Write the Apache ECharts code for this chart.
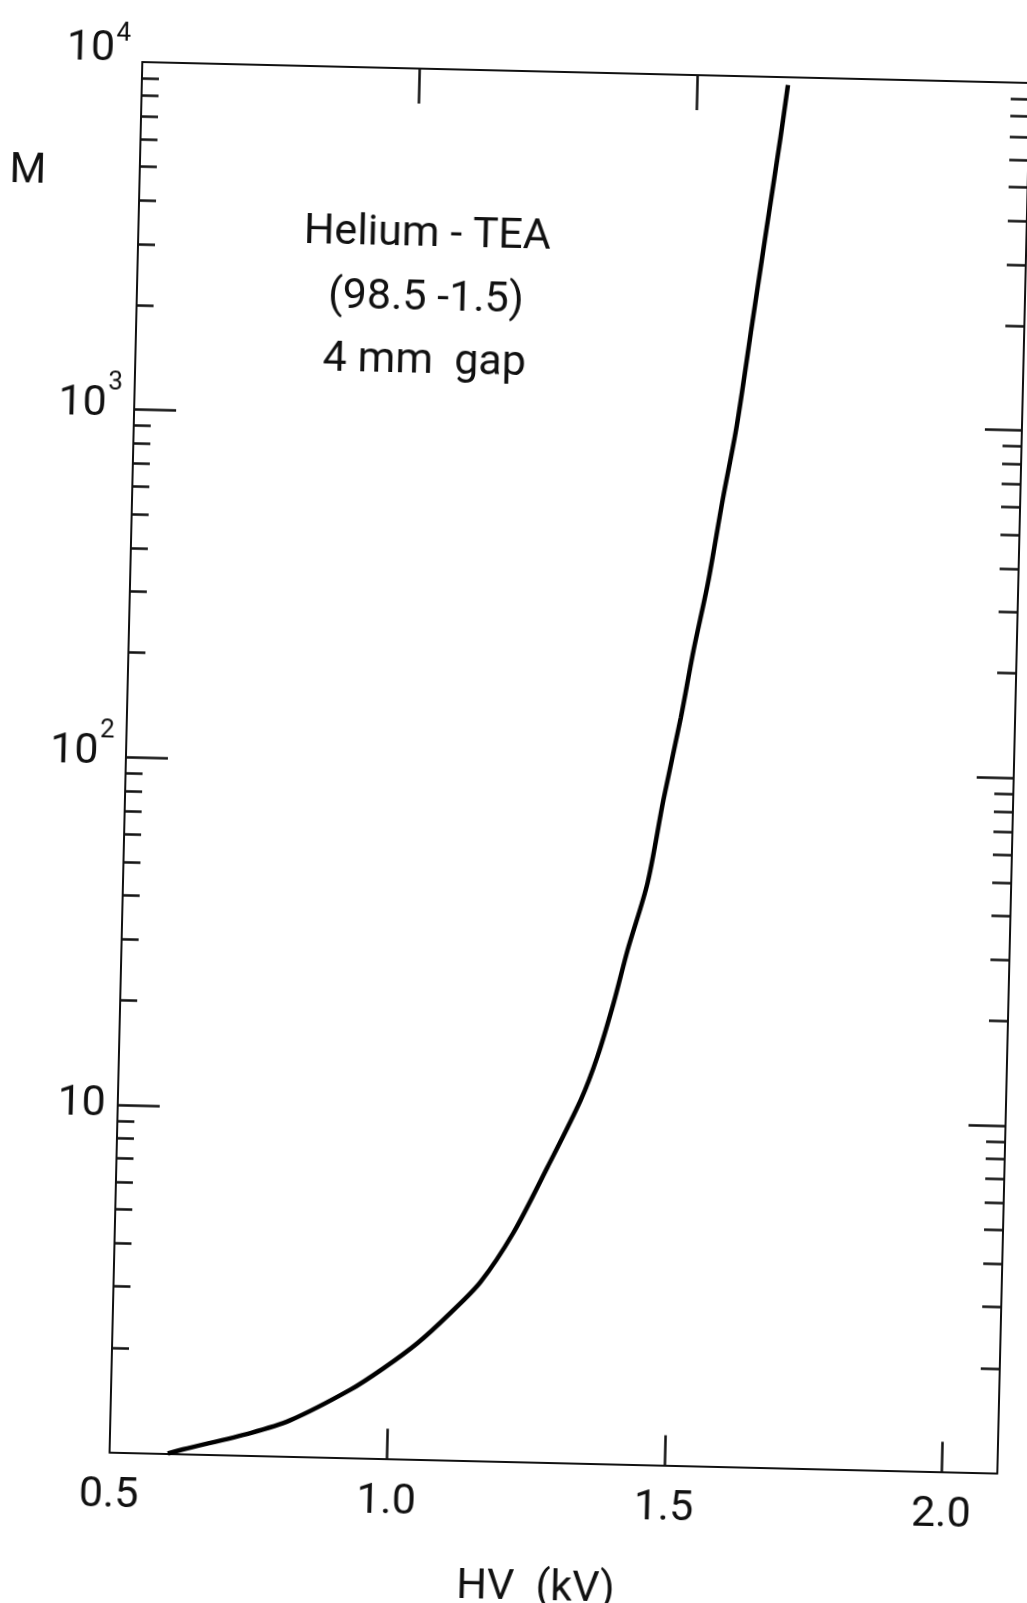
<!DOCTYPE html>
<html>
<head>
<meta charset="utf-8">
<script src="https://cdn.jsdelivr.net/npm/echarts@6/dist/echarts.min.js"></script>
<style>
  html, body { margin: 0; padding: 0; background: #fff; overflow: hidden; }
  /* the scan is tilted a little, so the whole chart is turned to match */
  #chart { position: absolute; left: -20px; top: -20px; width: 1067px; height: 1643px; transform: rotate(1.35deg); }
</style>
</head>
<body>
<div id="chart"></div>
<script>
// HV (kV) vs gas gain M
const hvKV = [0.605, 0.632, 0.753, 0.824, 0.931, 0.990, 1.050, 1.108, 1.161, 1.218, 1.277, 1.334, 1.362,
  1.389, 1.412, 1.445, 1.470, 1.498, 1.518, 1.541, 1.564, 1.586, 1.609, 1.632, 1.653, 1.664];
const gainM = [1.0, 1.03, 1.16, 1.27, 1.57, 1.82, 2.16, 2.65, 3.27, 4.55, 7.08, 11.1, 14.8,
  21.2, 30.2, 47.2, 81.9, 142, 222, 347, 603, 981, 1908, 3707, 6744, 9500];

const xLabelValues = [0.5, 1.0, 1.5, 2.0];
const xBottomTicks = [1.0, 1.5, 2.0];
const xTopTicks = [1.0, 1.5];
const yLabelValues = [10, 100, 1000, 10000];
const yMajorTicks = [10, 100, 1000];
const yMinorTicks = [2, 3, 4, 5, 6, 7, 8, 9, 20, 30, 40, 50, 60, 70, 80, 90,
  200, 300, 400, 500, 600, 700, 800, 900, 2000, 3000, 4000, 5000, 6000, 7000, 8000, 9000];
const noteLines = ['Helium - TEA', '(98.5 -1.5)', '4 mm  gap'];

const FONT = 'Roboto, "Liberation Sans", sans-serif';
const WEIGHT = 400;
const INK = '#111';

let chart = echarts.init(document.getElementById('chart'));

function yAxisPart(position, ticks, tickLen, withLine, withLabels) {
  const txt = { fontFamily: FONT, fontWeight: WEIGHT, color: INK }
  return {
    type: 'log',
    logBase: 10,
    min: 1,
    max: 10000,
    position: position,
    axisLine: { show: withLine, lineStyle: { color: INK, width: 2 } },
    axisTick: { show: true, inside: true, length: tickLen, customValues: ticks, lineStyle: { color: INK, width: 2.5 } },
    splitLine: { show: false },
    minorTick: { show: false },
    axisLabel: withLabels ? {
      show: true,
      margin: 12,
      customValues: yLabelValues,
      formatter: function (v) {
        let e = Math.round(Math.log10(v))
        if (e === 1) return '{p|10}'
        // the top label sits higher, beside the corner
        if (e === 4) return '{bt|10}{st|4}'
        return '{b|10}{s|' + e + '}'
      },
      rich: {
        p: { ...txt, fontSize: 43 },
        b: { ...txt, fontSize: 43, lineHeight: 43, padding: [0, 0, 8, 0] },
        s: { ...txt, fontSize: 26, lineHeight: 26, padding: [0, 0, 52, 1] },
        bt: { ...txt, fontSize: 43, lineHeight: 43, padding: [0, 0, 24, 0] },
        st: { ...txt, fontSize: 26, lineHeight: 26, padding: [0, 0, 55, 1] }
      }
    } : { show: false }
  }
}

let option = {
  backgroundColor: '#fff',
  animation: false,
  grid: { left: 145, right: 34, top: 91, height: 1390.5, containLabel: false },
  xAxis: [
    {
      type: 'value',
      position: 'bottom',
      min: 0.5,
      max: 2.1,
      axisLine: { show: true, lineStyle: { color: INK, width: 2 } },
      axisTick: { show: true, inside: true, length: 30, customValues: xBottomTicks, lineStyle: { color: INK, width: 2.5 } },
      splitLine: { show: false },
      axisLabel: {
        margin: 22,
        customValues: xLabelValues,
        formatter: v => v.toFixed(1),
        fontFamily: FONT, fontWeight: WEIGHT, fontSize: 43, color: INK
      },
      name: 'HV  (kV)',
      nameLocation: 'middle',
      nameGap: 105,
      nameTextStyle: { fontFamily: FONT, fontWeight: WEIGHT, fontSize: 43, color: INK, padding: [0, 30, 0, 0] }
    },
    {
      type: 'value',
      position: 'top',
      min: 0.5,
      max: 2.1,
      axisLine: { show: true, lineStyle: { color: INK, width: 2 } },
      axisTick: { show: true, inside: true, length: 35, customValues: xTopTicks, lineStyle: { color: INK, width: 2.5 } },
      splitLine: { show: false },
      axisLabel: { show: false }
    }
  ],
  yAxis: [
    yAxisPart('left', yMajorTicks, 42, true, true),
    yAxisPart('left', yMinorTicks, 17, false, false),
    yAxisPart('right', yMajorTicks, 37, true, false),
    yAxisPart('right', yMinorTicks, 19, false, false)
  ],
  graphic: [
    {
      type: 'text',
      x: 33, y: 203,
      style: { text: 'M', fontFamily: FONT, fontWeight: WEIGHT, fontSize: 42, fill: INK, textAlign: 'center', textVerticalAlign: 'middle' }
    },
    {
      type: 'text',
      x: 434, y: 321,
      style: { text: noteLines.join('\n'), fontFamily: FONT, fontWeight: WEIGHT, fontSize: 43, lineHeight: 63.5, fill: INK, textAlign: 'center', textVerticalAlign: 'middle' }
    }
  ],
  series: [
    {
      name: 'M',
      type: 'line',
      xAxisIndex: 0,
      yAxisIndex: 0,
      data: hvKV.map((v, i) => [v, gainM[i]]),
      showSymbol: false,
      smooth: 0.3,
      lineStyle: { color: '#000', width: 4.5 }
    }
  ]
}

chart.setOption(option)
</script>
</body>
</html>
